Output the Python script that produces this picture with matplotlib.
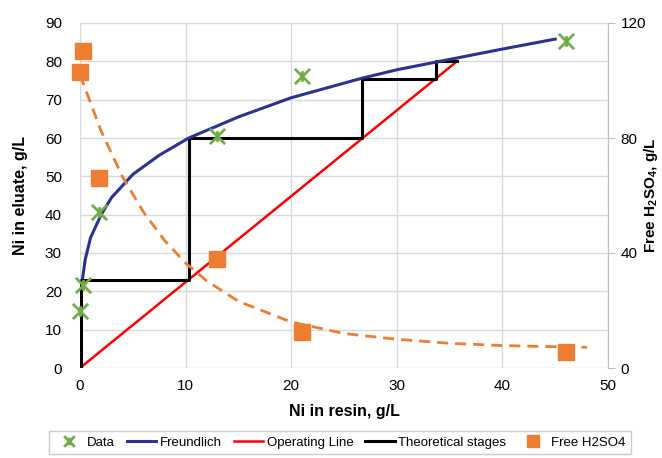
import matplotlib.pyplot as plt
from matplotlib.path import Path

plt.rcParams['font.family'] = ['Liberation Sans', 'DejaVu Sans']
plt.rcParams['mathtext.fontset'] = 'custom'
plt.rcParams['mathtext.rm'] = 'Liberation Sans'
plt.rcParams['mathtext.bf'] = 'Liberation Sans:bold'

# measured data
data_x = [0.0, 0.3, 1.8, 13.0, 21.0, 46.0]
data_y = [15.0, 21.6, 40.6, 60.4, 76.1, 85.4]

# Freundlich curve
freund_x = [0.25, 0.5, 1.0, 2.0, 3.0, 5.0, 7.5, 10.3, 15.0, 20.0, 26.7, 30.0, 35.0, 40.0, 45.0]
freund_y = [23.5, 28.4, 34.0, 40.0, 44.5, 50.5, 55.5, 60.0, 65.5, 70.5, 75.6, 77.8, 80.5, 83.2, 85.8]

# operating line
op_x = [0.0, 35.7]
op_y = [0.0, 80.0]

# theoretical stages
stage_x = [0.1, 0.1, 10.3, 10.3, 26.7, 26.7, 33.7, 33.7, 35.7]
stage_y = [0.0, 23.0, 23.0, 60.0, 60.0, 75.5, 75.5, 80.0, 80.0]

# free H2SO4 (right axis)
acid_x = [0.0, 0.3, 1.8, 13.0, 21.0, 46.0]
acid_y = [103.0, 110.3, 66.2, 37.9, 12.5, 5.6]

# dashed trend for free acid
trend_x = [0, 2, 4, 6, 8, 10, 12, 15, 20, 25, 30, 35, 40, 45, 48]
trend_y = [102.0, 82.4, 66.7, 54.3, 44.4, 36.5, 30.3, 23.2, 16.0, 12.0, 10.0, 8.6, 7.8, 7.4, 7.2]

star = Path([(-1, -1), (1, 1), (-1, 1), (1, -1), (0, -0.7), (0, 0.7)],
            [Path.MOVETO, Path.LINETO, Path.MOVETO, Path.LINETO, Path.MOVETO, Path.LINETO])

fig = plt.figure(figsize=(6.62, 4.58), dpi=100)
ax = fig.add_axes([80 / 662, 90 / 458, 528 / 662, 345 / 458])
ax2 = ax.twinx()

grid_c = '#D9D9D9'
ax.set_xlim(0, 50)
ax.set_ylim(0, 90)
ax.set_xticks(range(0, 51, 10))
ax.set_yticks(range(0, 91, 10))
ax.grid(True, color=grid_c, lw=1)
ax.set_axisbelow(True)
for s in ax.spines.values():
    s.set_visible(False)
ax.tick_params(length=0, labelsize=11)
ax.tick_params(axis='x', pad=8)
ax.tick_params(axis='y', pad=13)

ax2.set_ylim(0, 120)
ax2.set_yticks([0, 40, 80, 120])
for s in ['top', 'left', 'bottom']:
    ax2.spines[s].set_visible(False)
ax2.spines['right'].set_color('#BFBFBF')
ax2.tick_params(length=5, color='#BFBFBF', labelsize=11, pad=4)

l_op, = ax.plot(op_x, op_y, color='#FF0000', lw=1.8, label='Operating Line')
l_st, = ax.plot(stage_x, stage_y, color='black', lw=2.2, label='Theoretical stages')
l_fr, = ax.plot(freund_x, freund_y, color='#2E3192', lw=2.2, label='Freundlich')
l_da, = ax.plot(data_x, data_y, ls='none', marker=star, ms=11, mew=2,
                color='#70AD47', label='Data', clip_on=False, zorder=5)

ax2.plot(trend_x, trend_y, color='#ED7D31', lw=2, ls=(0, (4, 2.5)))
l_ac, = ax2.plot(acid_x, acid_y, ls='none', marker='s', ms=12, color='#ED7D31',
                 label='Free H2SO4', clip_on=False)

ax.set_xlabel('Ni in resin, g/L', fontsize=11.5, fontweight='bold', labelpad=8)
ax.set_ylabel('Ni in eluate, g/L', fontsize=11.5, fontweight='bold', labelpad=12)
fig.text(651 / 662, 1 - 195 / 458, r'Free H$_\mathbf{2}$SO$_\mathbf{4}$, g/L',
         rotation=90, ha='center', va='center', fontsize=11, fontweight='bold')

leg = fig.legend([l_da, l_fr, l_op, l_st, l_ac],
                 ['Data', 'Freundlich', 'Operating Line', 'Theoretical stages', 'Free H2SO4'],
                 loc='upper center', bbox_to_anchor=(340 / 662, 1 - 431 / 458), ncol=5,
                 fontsize=9.5, frameon=True, fancybox=False, edgecolor='#BFBFBF',
                 handlelength=2.2, handletextpad=0.3, columnspacing=0.9, borderaxespad=0,
                 markerscale=0.7)
leg.get_frame().set_linewidth(1)

fig.savefig('out.png', dpi=100)
